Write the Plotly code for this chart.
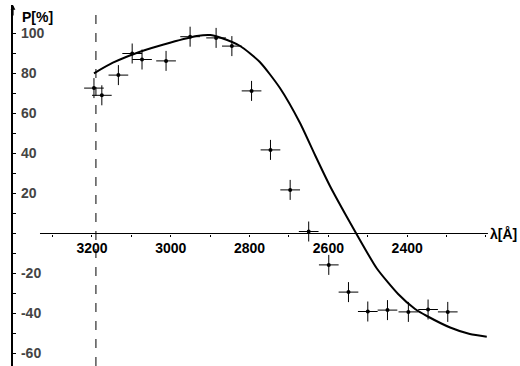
import plotly.graph_objects as go

# Measured points: wavelength (Å) and polarisation P (%)
wavelength = [3195, 3175, 3133, 3098, 3073, 3012, 2951, 2885, 2845, 2795,
              2747, 2697, 2650, 2599, 2549, 2500, 2450, 2397, 2347, 2297]
polarisation = [72.7, 69.1, 79.2, 90.0, 87.0, 86.3, 98.4, 97.8, 93.7, 71.3,
                41.8, 21.8, 1.0, -15.7, -29.3, -39.0, -38.3, -39.2, -38.0, -39.2]
err_wavelength = [25] * len(wavelength)
err_polarisation = [5] * len(wavelength)

# Theoretical curve
curve_wavelength = [3195, 3147, 3078, 3002, 2934, 2900, 2875, 2824, 2774, 2723,
                    2672, 2634, 2596, 2558, 2520, 2477, 2423, 2380, 2350, 2291,
                    2241, 2198]
curve_polarisation = [80.1, 85.4, 90.9, 95.4, 98.75, 99.25, 98.0, 93.75, 85.75, 72.75,
                      55.25, 39.25, 23.75, 10.0, -3.25, -17.5, -30.25, -37.75, -41.25, -47.0,
                      -50.25, -51.6]

x_tickvals = list(range(3300, 2199, -100))
x_ticktext = [str(v) if v in (3200, 3000, 2800, 2600, 2400) else "" for v in x_tickvals]
y_tickvals = list(range(-60, 101, 10))
y_ticktext = [str(v) if (v % 20 == 0 and v != 0) else "" for v in y_tickvals]

cutoff_wavelength = 3190
x_range = [3400.5, 2189.8]
y_range = [-66.25, 114.25]
axis_x_start, axis_x_end = 3332, 2195

font_family = "Liberation Sans, Arial, sans-serif"

fig = go.Figure()
fig.add_trace(go.Scatter(
    x=curve_wavelength, y=curve_polarisation, mode="lines",
    line=dict(color="black", width=2, shape="spline", smoothing=0.6),
    hoverinfo="skip", showlegend=False))
fig.add_trace(go.Scatter(
    x=wavelength, y=polarisation, mode="markers",
    marker=dict(color="black", size=4),
    error_x=dict(type="data", array=err_wavelength, thickness=1, width=0, color="black"),
    error_y=dict(type="data", array=err_polarisation, thickness=1, width=0, color="black"),
    showlegend=False))

fig.add_shape(type="line", xref="x", yref="y", x0=axis_x_start, x1=axis_x_end, y0=0, y1=0,
              line=dict(color="black", width=1.2))
fig.add_shape(type="line", xref="x", yref="y", x0=cutoff_wavelength, x1=cutoff_wavelength,
              y0=y_range[0], y1=110, line=dict(color="black", width=1, dash="dash"))

fig.add_annotation(text="<b>P[%]</b>", xref="paper", yref="paper", x=0.0147, y=0.967,
                   xanchor="left", yanchor="middle", showarrow=False,
                   font=dict(family=font_family, size=14, color="black"))
fig.add_annotation(text="<b>λ[Å]</b>", xref="paper", yref="y", x=0.996, y=0,
                   xanchor="left", yanchor="middle", showarrow=False,
                   font=dict(family=font_family, size=14, color="black"))
fig.add_annotation(text="", xref="paper", yref="paper", x=0, y=1.0, ax=0, ay=12,
                   showarrow=True, arrowhead=2, arrowsize=0.8, arrowwidth=1.2,
                   arrowcolor="black")

fig.update_layout(
    width=520, height=366,
    margin=dict(l=13, r=30, t=5, b=0),
    paper_bgcolor="white", plot_bgcolor="white",
    font=dict(family=font_family, size=14, color="black", weight="bold"),
    xaxis=dict(range=x_range, tickvals=x_tickvals, ticktext=x_ticktext,
               anchor="free", position=(0 - y_range[0]) / (y_range[1] - y_range[0]),
               showline=False, showgrid=False, zeroline=False, automargin=False,
               ticks="outside", ticklen=2, tickcolor="black", tickwidth=1),
    yaxis=dict(range=y_range, tickvals=y_tickvals, ticktext=y_ticktext,
               showline=True, linecolor="black", linewidth=1.5,
               showgrid=False, zeroline=False, automargin=False,
               ticks="inside", ticklen=3, tickcolor="black", tickwidth=1,
               ticklabelposition="inside", ticklabelstandoff=5),
)

fig.write_html("out.html", config={"displayModeBar": False},
               post_script="document.body.style.margin='0';")
